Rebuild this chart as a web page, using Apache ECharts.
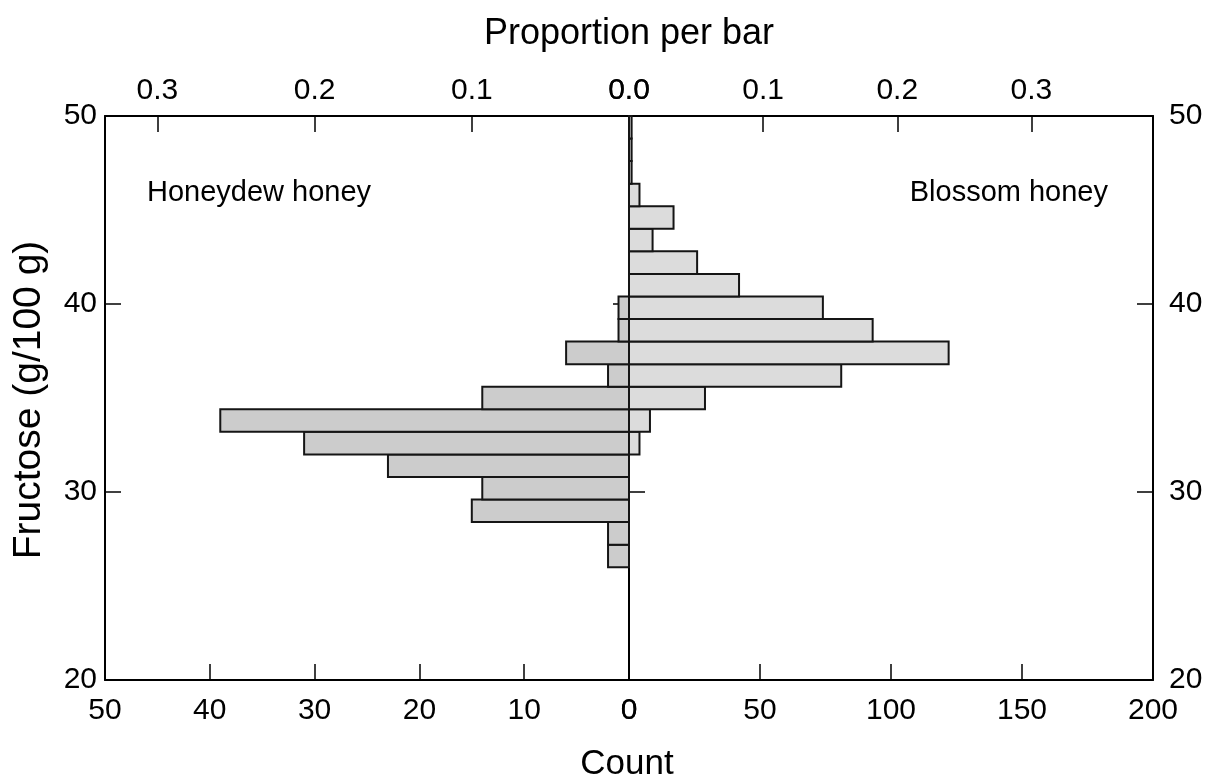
<!DOCTYPE html>
<html>
<head>
<meta charset="utf-8">
<title>Fructose in honey</title>
<script src="https://cdn.jsdelivr.net/npm/echarts@6/dist/echarts.min.js"></script>
<style>
  html, body { margin: 0; padding: 0; background: #fff; }
  #chart { width: 1208px; height: 783px; }
</style>
</head>
<body>
<div id="chart"></div>
<script>
// Fructose bins (g/100 g): 25 bins of width 1.2 from 20 to 50
const binLower = [20.0, 21.2, 22.4, 23.6, 24.8, 26.0, 27.2, 28.4, 29.6, 30.8,
                  32.0, 33.2, 34.4, 35.6, 36.8, 38.0, 39.2, 40.4, 41.6, 42.8,
                  44.0, 45.2, 46.4, 47.6, 48.8];
const binWidth = 1.2;
// Counts per bin, honeydew honey (drawn to the left)
const honeydewCounts = [0, 0, 0, 0, 0, 2, 2, 15, 14, 23,
                        31, 39, 14, 2, 6, 1, 1, 0, 0, 0,
                        0, 0, 0, 0, 0];
// Counts per bin, blossom honey (drawn to the right)
const blossomCounts = [0, 0, 0, 0, 0, 0, 0, 0, 0, 0,
                       4, 8, 29, 81, 122, 93, 74, 42, 26, 9,
                       17, 4, 1, 1, 1];
// Axis ranges and tick steps
const yTicks = [20, 30, 40, 50];
const leftCountMax = 50, leftCountStep = 10;
const rightCountMax = 200, rightCountStep = 50;
const propStep = 0.1;

const nHoneydew = honeydewCounts.reduce((a, b) => a + b, 0);
const nBlossom = blossomCounts.reduce((a, b) => a + b, 0);
const yMin = yTicks[0], yMax = yTicks[yTicks.length - 1];

const FONT = '"Liberation Sans", Arial, Helvetica, sans-serif';
const black = '#000';
const PANEL_W = 524;
const TICK_LEN = 16;

function axisLine() {
  return { show: true, onZero: false, lineStyle: { color: black, width: 2 } };
}
function axisTick(show) {
  return { show: show !== false, inside: true, length: TICK_LEN, lineStyle: { color: black, width: 1.5 } };
}
function tickLabel(extra) {
  return Object.assign({ show: true, color: black, fontSize: 30, fontFamily: FONT }, extra || {});
}
function propLabel(max) {
  return function (v) { return v > max - 1e-9 ? '' : v.toFixed(1); };
}
function yValueAxis(grid, position, opts) {
  opts = opts || {};
  return {
    type: 'value', gridIndex: grid, position: position,
    min: yMin, max: yMax, interval: 10,
    axisLine: axisLine(), axisTick: axisTick(opts.ticks),
    axisLabel: opts.margin != null ? tickLabel({ margin: opts.margin }) : { show: false },
    splitLine: { show: false }
  };
}

// Histogram bars: each bin spans [lower, lower + binWidth] on the fructose axis
function histogramBars(fill) {
  return function (params, api) {
    const lo = api.value(0), count = api.value(1);
    if (!count) return null;
    const a = api.coord([0, lo]);
    const b = api.coord([count, lo + binWidth]);
    return {
      type: 'rect',
      shape: {
        x: Math.min(a[0], b[0]), y: Math.min(a[1], b[1]),
        width: Math.abs(b[0] - a[0]), height: Math.abs(b[1] - a[1])
      },
      style: { fill: fill, stroke: '#151515', lineWidth: 2 }
    };
  };
}

// Inward ticks on the outer left frame, in count units of the honeydew axis
const tickLenCounts = TICK_LEN / (PANEL_W / leftCountMax);
const leftEdgeTicks = yTicks.slice(1, -1).map(t => [
  { coord: [leftCountMax, t] },
  { coord: [leftCountMax - tickLenCounts, t] }
]);

const chart = echarts.init(document.getElementById('chart'), null, { renderer: 'canvas' });

chart.setOption({
  animation: false,
  backgroundColor: '#fff',
  grid: [
    { left: 105, top: 116, width: PANEL_W, height: 564 },
    { left: 105 + PANEL_W, top: 116, width: PANEL_W, height: 564 }
  ],
  xAxis: [
    { // honeydew counts, bottom
      type: 'value', gridIndex: 0, position: 'bottom', inverse: true,
      min: 0, max: leftCountMax, interval: leftCountStep,
      axisLine: axisLine(), axisTick: axisTick(),
      axisLabel: tickLabel({ margin: 16 }), splitLine: { show: false }
    },
    { // honeydew proportion, top
      type: 'value', gridIndex: 0, position: 'top', inverse: true,
      min: 0, max: leftCountMax / nHoneydew, interval: propStep,
      axisLine: axisLine(), axisTick: axisTick(),
      axisLabel: tickLabel({ margin: 10, formatter: propLabel(leftCountMax / nHoneydew) }),
      splitLine: { show: false }
    },
    { // blossom counts, bottom
      type: 'value', gridIndex: 1, position: 'bottom',
      min: 0, max: rightCountMax, interval: rightCountStep,
      axisLine: axisLine(), axisTick: axisTick(),
      axisLabel: tickLabel({ margin: 16 }), splitLine: { show: false }
    },
    { // blossom proportion, top
      type: 'value', gridIndex: 1, position: 'top',
      min: 0, max: rightCountMax / nBlossom, interval: propStep,
      axisLine: axisLine(), axisTick: axisTick(),
      axisLabel: tickLabel({ margin: 10, formatter: propLabel(rightCountMax / nBlossom) }),
      splitLine: { show: false }
    }
  ],
  yAxis: [
    yValueAxis(0, 'left', { margin: 8, ticks: false }), // fructose scale, left edge
    yValueAxis(0, 'right'),                             // centre, ticks only
    yValueAxis(1, 'left'),                              // centre, ticks only
    yValueAxis(1, 'right', { margin: 16 })              // fructose scale, right edge
  ],
  series: [
    {
      name: 'Honeydew honey', type: 'custom', xAxisIndex: 0, yAxisIndex: 0,
      data: binLower.map((v, i) => [v, honeydewCounts[i]]),
      encode: { x: 1, y: 0 }, z: 5,
      renderItem: histogramBars('#cccccc')
    },
    {
      name: 'Blossom honey', type: 'custom', xAxisIndex: 2, yAxisIndex: 3,
      data: binLower.map((v, i) => [v, blossomCounts[i]]),
      encode: { x: 1, y: 0 }, z: 5,
      renderItem: histogramBars('#dcdcdc')
    },
    {
      name: 'frame ticks', type: 'line', xAxisIndex: 0, yAxisIndex: 0,
      data: [], silent: true, z: 6,
      markLine: {
        silent: true, symbol: ['none', 'none'], animation: false,
        label: { show: false },
        lineStyle: { color: black, width: 1.5, type: 'solid' },
        data: leftEdgeTicks
      }
    }
  ],
  graphic: [
    { type: 'text', x: 629, y: 34, style: { text: 'Proportion per bar', fill: black,
      font: '36px ' + FONT, textAlign: 'center', textVerticalAlign: 'middle' } },
    { type: 'text', x: 627, y: 764, style: { text: 'Count', fill: black,
      font: '35px ' + FONT, textAlign: 'center', textVerticalAlign: 'middle' } },
    { type: 'text', x: 29, y: 400, rotation: Math.PI / 2, style: { text: 'Fructose (g/100 g)', fill: black,
      font: '39px ' + FONT, textAlign: 'center', textVerticalAlign: 'middle' } },
    { type: 'text', x: 147, y: 193, style: { text: 'Honeydew honey', fill: black,
      font: '29px ' + FONT, textAlign: 'left', textVerticalAlign: 'middle' } },
    { type: 'text', x: 1108, y: 193, style: { text: 'Blossom honey', fill: black,
      font: '29px ' + FONT, textAlign: 'right', textVerticalAlign: 'middle' } }
  ]
});
</script>
</body>
</html>
